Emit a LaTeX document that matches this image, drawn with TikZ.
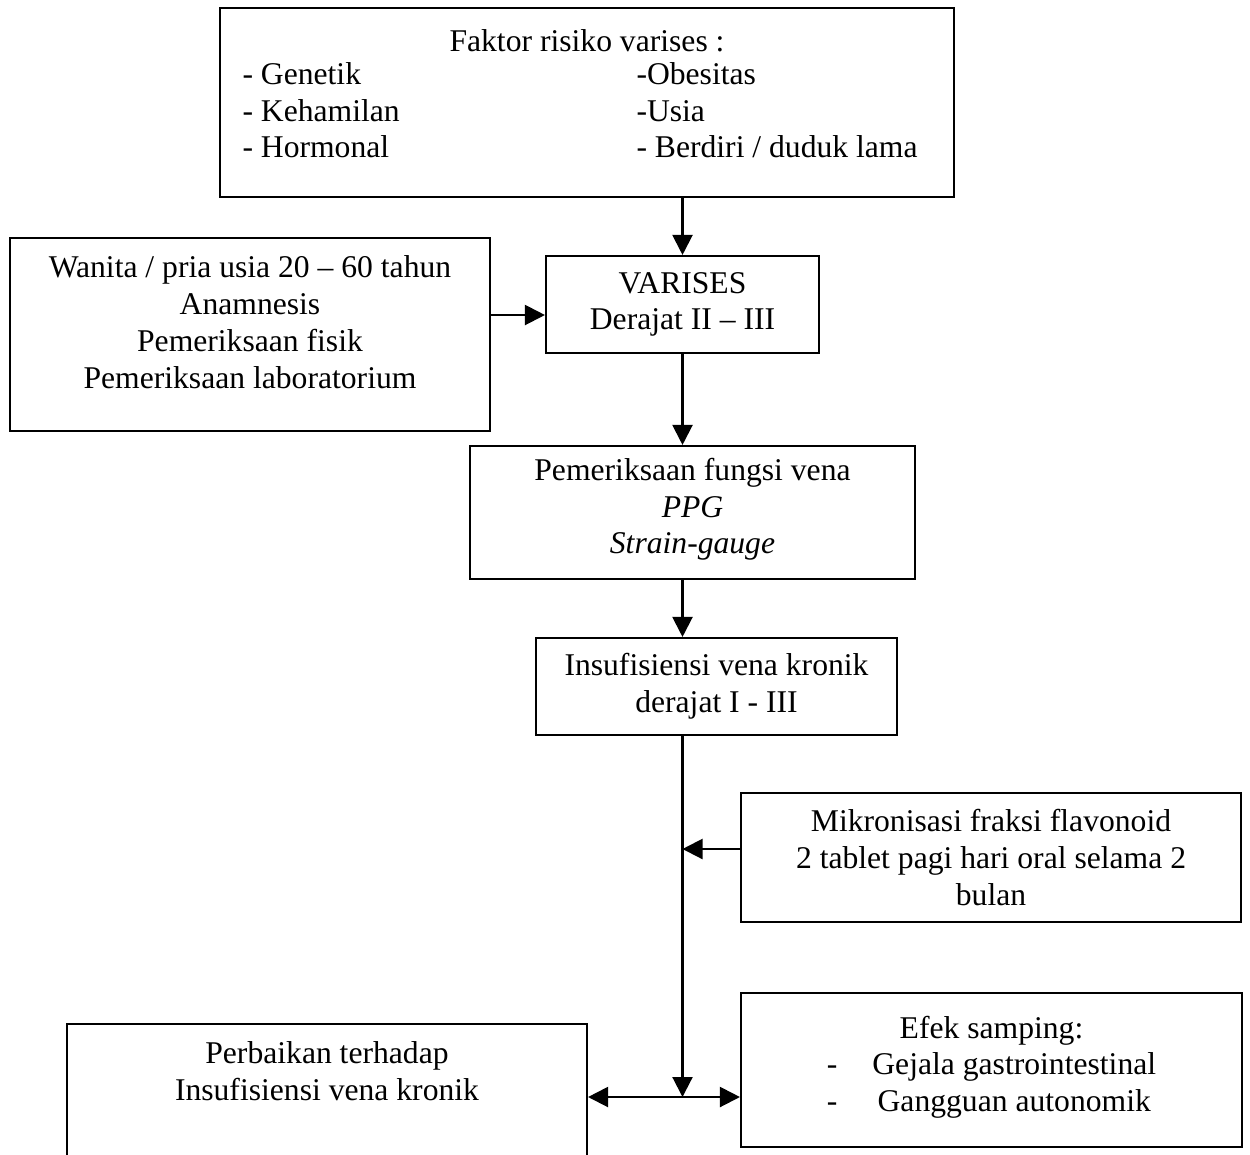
\documentclass[tikz,border=0pt]{standalone}
\usepackage{fontspec}
\setmainfont{Liberation Serif}
\usepackage{tikz}
\usetikzlibrary{arrows.meta}

\begin{document}
\begin{tikzpicture}[thick,
    box/.style = {draw, line width=1.2pt, inner sep=0pt, align=center, font=\fontsize{18}{20.9}\selectfont},
    arr/.style = {line width=1.2pt, -{Triangle[length=0.4cm,width=0.4cm]}},
    arrs/.style = {line width=1.2pt, {Triangle[length=0.4cm,width=0.4cm]}-{Triangle[length=0.4cm,width=0.4cm]}}]
        \useasboundingbox (0,0) rectangle (25,-23.08);
        \clip (0,0) rectangle (25,-23.08);
        \node[box, minimum width=14.68cm, minimum height=3.78cm] (risk) at (11.74,-2.05)
            {\begin{tabular}{@{}p{7.88cm}@{}p{5.9cm}@{}}
             \multicolumn{2}{@{}c@{}}{Faktor risiko varises :}\\[-2pt]
             - Genetik & -Obesitas\\
             - Kehamilan & -Usia\\
             - Hormonal & - Berdiri / duduk lama\\[6pt]
             \end{tabular}};
        \node[box, minimum width=9.6cm, minimum height=3.86cm] (subj) at (5.0,-6.69)
            {\begin{tabular}{@{}c@{}}
             Wanita / pria usia 20 -- 60 tahun\\
             Anamnesis\\
             Pemeriksaan fisik\\
             Pemeriksaan laboratorium\\[10pt]
             \end{tabular}};
        \node[box, minimum width=5.46cm, minimum height=1.94cm] (var) at (13.65,-6.09)
            {VARISES\\ Derajat II -- III};
        \node[box, minimum width=8.9cm, minimum height=2.66cm] (fung) at (13.85,-10.25)
            {\begin{tabular}{@{}c@{}}
             Pemeriksaan fungsi vena\\
             \textit{PPG}\\
             \textit{Strain-gauge}\\[3pt]
             \end{tabular}};
        \node[box, minimum width=7.22cm, minimum height=1.94cm] (ins) at (14.33,-13.73)
            {Insufisiensi vena kronik\\ derajat I - III};
        \node[box, minimum width=10.0cm, minimum height=2.58cm] (mik) at (19.82,-17.15)
            {Mikronisasi fraksi flavonoid\\ 2 tablet pagi hari oral selama 2\\ bulan};
        \node[box, minimum width=10.02cm, minimum height=3.08cm] (efek) at (19.83,-21.4)
            {\begin{tabular}{@{}l@{\hspace{0.7cm}}c@{}}
             \multicolumn{2}{@{}c@{}}{Efek samping:}\\
             - & Gejala gastrointestinal\\
             - & Gangguan autonomik\\[3pt]
             \end{tabular}};
        \node[box, minimum width=10.4cm, minimum height=3.0cm] (perb) at (6.54,-21.98)
            {\begin{tabular}{@{}c@{}}
             Perbaikan terhadap\\
             Insufisiensi vena kronik\\[28pt]
             \end{tabular}};
        \coordinate (junc) at (13.65,-21.94);
        \draw[arr] (var.north |- risk.south) -- (var.north);
        \draw[arr] ([yshift=0.39cm]subj.east) -- ([yshift=0.39cm]subj.east -| var.west);
        \draw[arr] (var.south) -- (var.south |- fung.north);
        \draw[arr] (var.south |- fung.south) -- (var.south |- ins.north);
        \draw[arr] (var.south |- ins.south) -- (junc);
        \draw[arr] ([yshift=0.17cm]mik.west) -- ([yshift=0.17cm]mik.west -| junc);
        \draw[arrs] (perb.east |- junc) -- (efek.west |- junc);
\end{tikzpicture}
\end{document}
